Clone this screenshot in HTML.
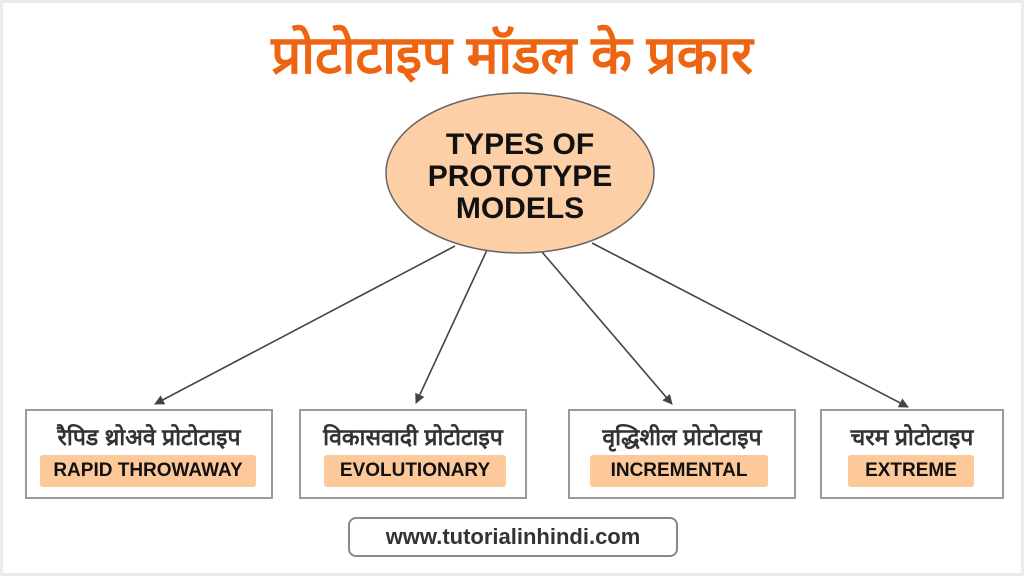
<!DOCTYPE html>
<html><head><meta charset="utf-8"><style>
body{margin:0;width:1024px;height:576px;background:#fff;font-family:"Liberation Sans","DejaVu Sans",sans-serif;position:relative;overflow:hidden}
.frame{position:absolute;left:0;top:0;width:1018px;height:570px;border:3px solid #ececec}
.title{position:absolute;left:0;width:1024px;top:16px;text-align:center;color:#ee6511;font-size:53px;font-weight:bold}
.box{position:absolute;top:409px;height:86px;border:2px solid #9a9a9a;background:#fff;text-align:center}
.box .h{font-size:23px;font-weight:bold;color:#333;margin-top:9px;height:30px}
.tag{position:absolute;top:44px;height:32px;line-height:32px;background:#fdc99a;border-radius:3px;font-size:19px;font-weight:bold;color:#111}
.url{position:absolute;left:348px;top:517px;width:326px;height:36px;border:2px solid #888;border-radius:8px;text-align:center;line-height:36px;font-size:22px;color:#333;font-weight:bold}
</style></head><body>
<div class="frame"></div>
<div class="title">प्रोटोटाइप मॉडल के प्रकार</div>
<svg width="1024" height="576" style="position:absolute;left:0;top:0">
<defs><marker id="a" markerWidth="10" markerHeight="10" refX="9" refY="5" orient="auto" markerUnits="userSpaceOnUse"><path d="M0,0 L10,5 L0,10 z" fill="#444"/></marker></defs>
<g stroke="#444" stroke-width="1.6" marker-end="url(#a)">
<line x1="455" y1="246" x2="155" y2="404"/>
<line x1="487" y1="250" x2="416" y2="403"/>
<line x1="542" y1="252" x2="672" y2="404"/>
<line x1="592" y1="243" x2="908" y2="407"/>
</g>
<ellipse cx="520" cy="173" rx="134" ry="80" fill="#fdcfa6" stroke="#666" stroke-width="1.5"/>
<g font-family="Liberation Sans, sans-serif" font-weight="bold" font-size="30" text-anchor="middle" fill="#111">
<text x="520" y="154">TYPES OF</text>
<text x="520" y="186">PROTOTYPE</text>
<text x="520" y="218">MODELS</text>
</g>
</svg>
<div class="box" style="left:25px;width:244px"><div class="h">रैपिड थ्रोअवे प्रोटोटाइप</div><div class="tag" style="left:13px;width:216px">RAPID THROWAWAY</div></div>
<div class="box" style="left:299px;width:224px"><div class="h">विकासवादी प्रोटोटाइप</div><div class="tag" style="left:23px;width:182px">EVOLUTIONARY</div></div>
<div class="box" style="left:568px;width:224px"><div class="h">वृद्धिशील प्रोटोटाइप</div><div class="tag" style="left:20px;width:178px">INCREMENTAL</div></div>
<div class="box" style="left:820px;width:180px"><div class="h">चरम प्रोटोटाइप</div><div class="tag" style="left:26px;width:126px">EXTREME</div></div>
<div class="url">www.tutorialinhindi.com</div>
</body></html>
